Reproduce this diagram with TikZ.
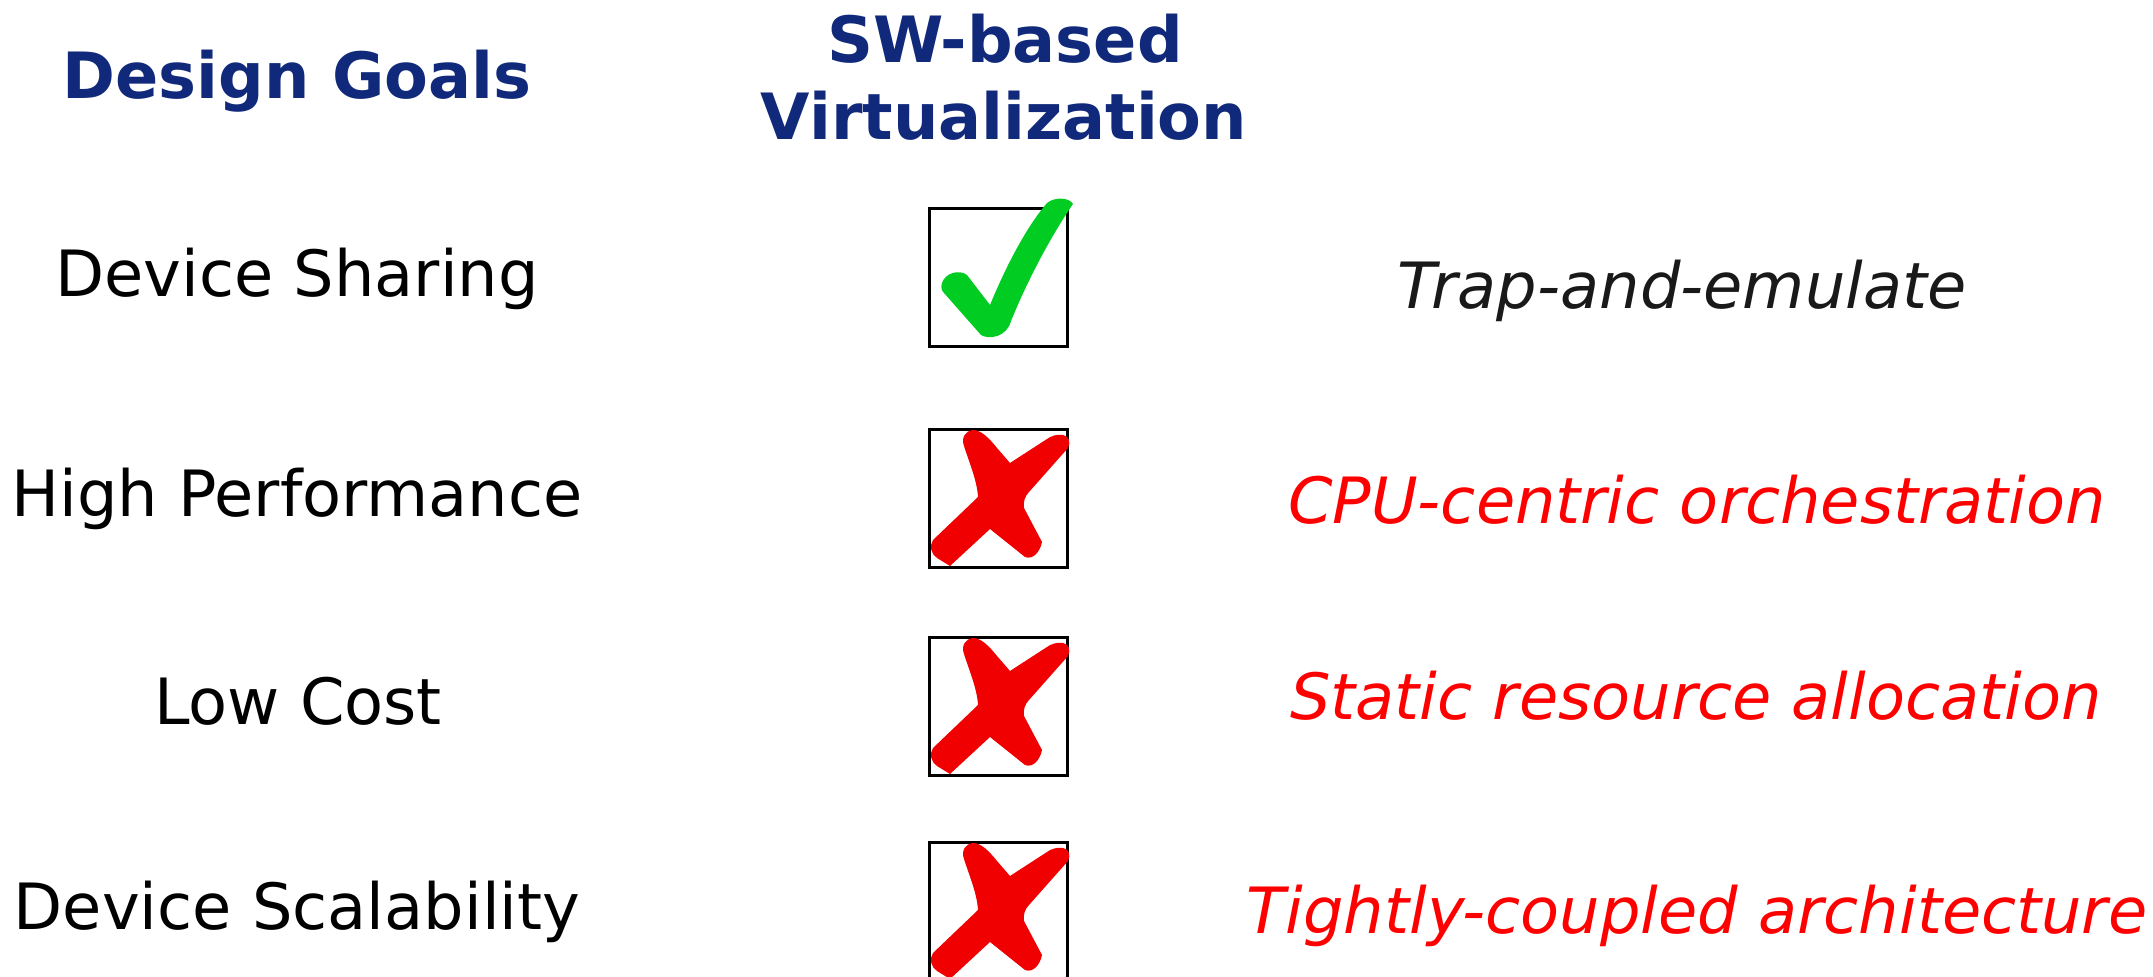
\documentclass[tikz,border=0pt]{standalone}
\usepackage{fontspec}
\setmainfont{DejaVu Sans}
\usepackage{xcolor}
\usepackage{tikz}
\usetikzlibrary{positioning}
\definecolor{headblue}{RGB}{16,41,122}
\definecolor{tickgreen}{RGB}{0,204,34}
\definecolor{crossred}{RGB}{240,0,0}
\tikzstyle{goal} = [anchor=base, inner sep=0, font=\fontsize{31.9}{38}\selectfont]
\tikzstyle{head} = [goal, text=headblue, font=\fontsize{31.9}{38}\selectfont\bfseries]
\tikzstyle{reason} = [goal, font=\fontsize{31.9}{38}\selectfont\itshape]
\tikzstyle{markbox} = [draw, line width=1.5pt, minimum size=69pt, inner sep=0, outer sep=0]

\begin{document}
\begin{tikzpicture}[x=0.5pt, y=-0.5pt]
    \useasboundingbox (0,0) rectangle (2153,977);

    % Headers
    \node[head] (hgoal) at (297,99) {Design Goals};
    \node[head] (hsw) at (1005,62.7) {SW-based};
    \node[head] (hvirt) at (1004,139.3) {Virtualization};

    % Goals
    \node[goal] (g1) at (297,296.7) {Device Sharing};
    \node[goal] (g2) at (297,516.7) {High Performance};
    \node[goal] (g3) at (298,725) {Low Cost};
    \node[goal] (g4) at (297,929) {Device Scalability};

    % Boxes
    \node[markbox] (b1) at (998,278) {};
    \node[markbox] (b2) at (998,499) {};
    \node[markbox] (b3) at (998,707) {};
    \node[markbox] (b4) at (998,912) {};

    % Tick
    \begin{scope}[shift={(b1.north west)}]
        \fill[tickgreen] (13,74) .. controls (16,64) and (30,60) .. (38,66)
            -- (61,96) .. controls (80,50) and (100,15) .. (118,-6)
            .. controls (125,-12) and (140,-12) .. (144,-5)
            .. controls (120,30) and (97,75) .. (82,112)
            .. controls (78,128) and (60,131) .. (52,126)
            -- (15,84) .. controls (12,81) and (12,78) .. (13,74) -- cycle;
    \end{scope}

    % Crosses
    \foreach \b in {b2,b3,b4}{
        \begin{scope}[shift={(\b.north west)}]
            \fill[crossred] (44,0) .. controls (36,1) and (32,8) .. (35,16)
                .. controls (40,32) and (48,50) .. (49,67)
                -- (4,110) .. controls (0,116) and (2,124) .. (8,128)
                -- (21,136) -- (61,99)
                -- (96,127) .. controls (104,130) and (111,122) .. (113,112)
                -- (95,78) .. controls (94,72) and (96,66) .. (100,62)
                -- (139,18) .. controls (142,12) and (140,6) .. (134,5)
                .. controls (128,4) and (122,6) .. (118,9)
                -- (81,33) -- (68,18) .. controls (60,8) and (52,0) .. (44,0) -- cycle;
        \end{scope}
    }

    % Reasons
    \node[reason, text=black!90] (r1) at (1682,308.3) {Trap-and-emulate};
    \node[reason, text=red] (r2) at (1697,523.3) {CPU-centric orchestration};
    \node[reason, text=red] (r3) at (1696,720) {Static resource allocation};
    \node[reason, text=red] (r4) at (1697,933.3) {Tightly-coupled architecture};
\end{tikzpicture}
\end{document}
